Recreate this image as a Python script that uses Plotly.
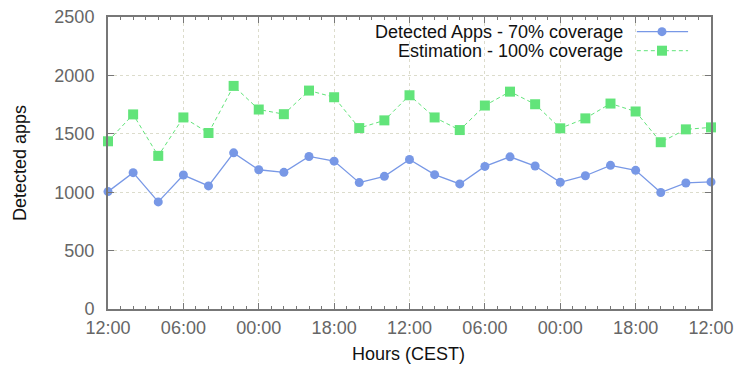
import plotly.graph_objects as go

# Hours since the first sample (one sample every 2 hours over 48 hours)
hours = list(range(0, 49, 2))

detected_apps = [1005, 1167, 917, 1147, 1054, 1337, 1192, 1170, 1306, 1266,
                 1082, 1136, 1280, 1150, 1071, 1221, 1303, 1224, 1085, 1141,
                 1230, 1187, 997, 1079, 1088]

estimation = [1436, 1666, 1311, 1640, 1507, 1910, 1708, 1668, 1870, 1813,
              1549, 1615, 1830, 1640, 1532, 1742, 1861, 1753, 1547, 1632,
              1759, 1691, 1428, 1538, 1555]

tick_hours = list(range(0, 49, 6))
tick_labels = ["12:00", "06:00", "00:00", "18:00", "12:00",
               "06:00", "00:00", "18:00", "12:00"]

series_names = ["Detected Apps - 70% coverage", "Estimation - 100% coverage"]

BLUE = "#7898e6"
GREEN = "#62e47a"
FONT = "Liberation Sans, Arial, sans-serif"
AXIS = "#777777"
GRID = "#dcdccc"

fig = go.Figure()
fig.add_trace(go.Scatter(
    x=hours, y=detected_apps, name=series_names[0], mode="lines+markers",
    line=dict(color=BLUE, width=1.3),
    marker=dict(symbol="circle", size=9, color=BLUE),
    cliponaxis=False, showlegend=False))
fig.add_trace(go.Scatter(
    x=hours, y=estimation, name=series_names[1], mode="lines+markers",
    line=dict(color=GREEN, width=1, dash="4px,3px"),
    marker=dict(symbol="square", size=10, color=GREEN),
    cliponaxis=False, showlegend=False))

fig.update_xaxes(
    range=[0, 48], tickvals=tick_hours, ticktext=tick_labels,
    ticks="inside", ticklen=6, tickwidth=1, tickcolor=AXIS,
    minor=dict(dtick=1, ticks="inside", ticklen=3, tickcolor=AXIS, showgrid=False),
    showline=True, linecolor=AXIS, linewidth=2, mirror="ticks",
    showgrid=True, gridcolor=GRID, griddash="dot", gridwidth=1,
    tickfont=dict(family=FONT, size=18, color="#666666"),
    ticklabelstandoff=1, zeroline=False, automargin=False)
fig.update_yaxes(
    range=[0, 2500], tickvals=[0, 500, 1000, 1500, 2000, 2500],
    ticks="inside", ticklen=6, tickwidth=1, tickcolor=AXIS,
    showline=True, linecolor=AXIS, linewidth=2, mirror="ticks",
    showgrid=True, gridcolor=GRID, griddash="dot", gridwidth=1,
    tickfont=dict(family=FONT, size=18, color="#666666"),
    ticklabelstandoff=8, zeroline=False, automargin=False)

# Axis titles
fig.add_annotation(text="Hours (CEST)", xref="paper", yref="paper",
                   x=0.499, y=-0.154, xanchor="center", yanchor="middle",
                   showarrow=False, font=dict(family=FONT, size=18, color="#111111"))
fig.add_annotation(text="Detected apps", xref="paper", yref="paper",
                   x=-0.146, y=0.5, xanchor="center", yanchor="middle",
                   textangle=-90, showarrow=False,
                   font=dict(family=FONT, size=18, color="#111111"))

# Key in the upper right corner: text on the left, line sample on the right
rows = [0.9497, 0.8846]
for name, ypos, color, dash, sym in zip(series_names, rows, [BLUE, GREEN],
                                         ["solid", "4px,3px"], ["circle", "rect"]):
    fig.add_annotation(text=name, xref="paper", yref="paper",
                       x=0.8574, y=ypos, xanchor="right", yanchor="middle",
                       showarrow=False, font=dict(family=FONT, size=18, color="#111111"))
    fig.add_shape(type="line", xref="paper", yref="paper",
                  x0=0.877, x1=0.962, y0=ypos, y1=ypos,
                  line=dict(color=color, width=1.3 if dash == "solid" else 1, dash=dash))
    half = 4.5 if sym == "circle" else 5
    fig.add_shape(type=sym, xref="paper", yref="paper",
                  xsizemode="pixel", ysizemode="pixel",
                  xanchor=0.9187, yanchor=ypos,
                  x0=-half, x1=half, y0=-half, y1=half,
                  fillcolor=color, line=dict(width=0))

fig.update_layout(
    width=736, height=367,
    margin=dict(l=108, r=25, t=17, b=58),
    plot_bgcolor="white", paper_bgcolor="white",
    font=dict(family=FONT, size=18),
    showlegend=False)

fig.write_html("out.html")
